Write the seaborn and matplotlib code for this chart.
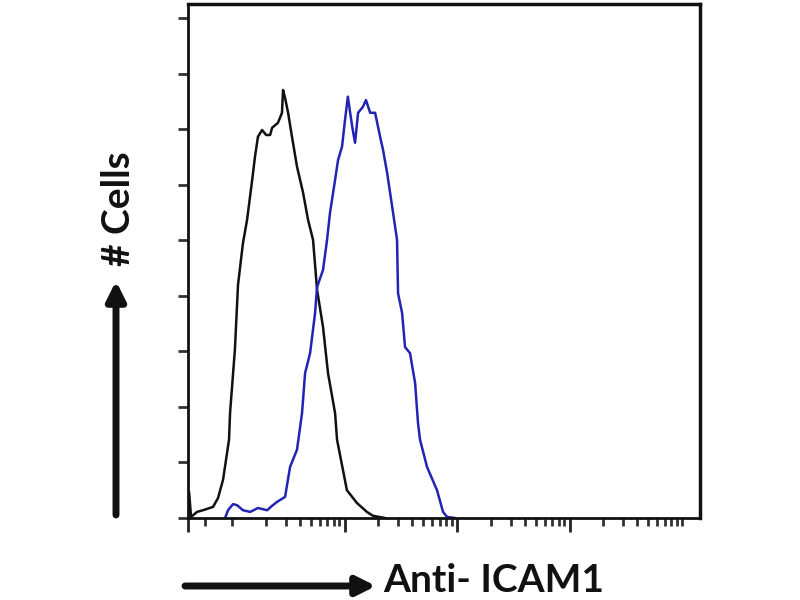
import matplotlib
matplotlib.use("Agg")
import matplotlib.pyplot as plt
from matplotlib.ticker import FixedLocator, NullFormatter
import numpy as np
import pandas as pd
import seaborn as sns

# Isotype control (black) - fluorescence intensity vs cell count
control_intensity = [0.406, 0.415, 0.432, 0.489, 0.552, 0.678, 0.751, 0.832, 0.940, 0.960,
                     1.06, 1.13, 1.25, 1.36, 1.51, 1.60, 1.70, 1.85, 2.01, 2.18, 2.27,
                     2.56, 2.78, 2.84, 2.96, 3.15, 3.41, 3.78, 4.28, 4.74, 5.25,
                     5.70, 6.44, 7.13, 8.24, 8.58, 10.5, 12.9, 15.8, 17.9, 22.9]
control_count = [0.0, 4.7, 0.2, 1.1, 1.4, 2.0, 3.6, 6.9, 14.1, 18.9,
                 30.3, 42.0, 49.5, 53.7, 60.9, 65.1, 68.7, 69.9, 69.0, 69.0, 70.3,
                 71.2, 73.0, 77.1, 75.7, 73.0, 68.7, 63.3, 58.6, 53.7, 50.1,
                 41.1, 34.4, 26.1, 18.9, 14.1, 5.0, 2.7, 1.1, 0.4, 0.0]

# Anti-ICAM1 stained cells (blue)
icam1_intensity = [0.867, 0.921, 1.02, 1.11, 1.25, 1.45, 1.70, 2.05, 2.27, 2.51,
                   2.96, 3.28, 3.78, 4.19, 4.46, 4.94, 5.47, 5.70, 6.44, 6.99,
                   7.43, 8.24, 8.76, 9.50, 10.1, 10.7, 11.7, 12.4, 13.2, 14.6,
                   15.5, 16.9, 18.7, 20.7, 22.0, 23.9, 27.0, 29.3, 29.9, 32.5,
                   34.5, 38.2, 42.4, 45.0, 46.9, 54.1, 66.4, 75.1, 81.5, 95.9]
icam1_count = [0.0, 1.4, 2.5, 2.3, 1.4, 1.1, 1.8, 1.4, 2.2, 2.9,
               3.8, 9.2, 12.3, 18.9, 26.1, 29.7, 36.9, 41.6, 44.7, 50.1,
               55.0, 60.9, 64.5, 66.9, 71.7, 75.9, 70.5, 67.6, 73.0, 74.1,
               75.3, 73.0, 73.0, 68.7, 66.3, 62.2, 55.0, 50.1, 40.5, 36.9,
               30.8, 29.7, 24.3, 17.1, 14.1, 9.2, 5.0, 1.1, 0.2, 0.0]

y_ticks = [0, 10, 20, 30, 40, 50, 60, 70, 80, 90]
x_major = [0.406, 10, 100, 1000]
x_minor = [0.575, 1, 2, 3, 4, 5, 6, 7, 8, 9,
           20, 30, 40, 50, 60, 70, 80, 90,
           200, 300, 400, 500, 600, 700, 800, 900,
           2000, 3000, 4000, 5000, 6000, 7000, 8000, 9000, 10000]

sns.set_style("ticks")
plt.rcParams['font.family'] = ['Lato', 'DejaVu Sans']

df_ctrl = pd.DataFrame({'intensity': control_intensity, 'count': control_count})
df_icam = pd.DataFrame({'intensity': icam1_intensity, 'count': icam1_count})

fig = plt.figure(figsize=(8, 6), dpi=100)
ax = fig.add_axes([188 / 800, 1 - 518 / 600, 512 / 800, 514 / 600])

sns.lineplot(data=df_ctrl, x='intensity', y='count', ax=ax, color='#111111',
             linewidth=1.8, estimator=None, sort=False)
sns.lineplot(data=df_icam, x='intensity', y='count', ax=ax, color='#2323b4',
             linewidth=1.8, estimator=None, sort=False)

ax.set_xscale('log')
ax.set_xlim(0.406, 14450)
ax.set_ylim(0, 92.6)

ax.xaxis.set_major_locator(FixedLocator(x_major))
ax.xaxis.set_minor_locator(FixedLocator(x_minor))
ax.xaxis.set_major_formatter(NullFormatter())
ax.xaxis.set_minor_formatter(NullFormatter())
ax.set_yticks(y_ticks)
ax.set_yticklabels([])
ax.tick_params(axis='x', which='major', length=10, width=2, color='#222222')
ax.tick_params(axis='x', which='minor', length=6, width=2, color='#333333')
ax.tick_params(axis='y', which='major', length=7, width=2, color='#333333')
ax.set_xlabel('')
ax.set_ylabel('')

for side in ['left', 'bottom', 'top', 'right']:
    ax.spines[side].set_visible(True)
    ax.spines[side].set_color('#111111')
    ax.spines[side].set_linewidth(2)
ax.spines['top'].set_linewidth(2.5)
ax.spines['right'].set_linewidth(2.5)

# axis labels with arrows
fig.text(383 / 800, 1 - 581 / 600, 'Anti- ICAM1', fontsize=28, fontweight='bold',
         ha='left', va='center', color='#111111')
ax.annotate('', xy=(376 / 800, 1 - 586 / 600), xytext=(185 / 800, 1 - 586 / 600),
            xycoords='figure fraction', textcoords='figure fraction',
            arrowprops=dict(arrowstyle='-|>', lw=5, color='#111111', mutation_scale=28,
                            shrinkA=0, shrinkB=0))

fig.text(118 / 800, 1 - 209 / 600, '# Cells', fontsize=28, fontweight='bold',
         rotation=90, ha='center', va='center', color='#111111')
ax.annotate('', xy=(116 / 800, 1 - 281 / 600), xytext=(116 / 800, 1 - 515 / 600),
            xycoords='figure fraction', textcoords='figure fraction',
            arrowprops=dict(arrowstyle='-|>', lw=5, color='#111111', mutation_scale=28,
                            shrinkA=0, shrinkB=0))

fig.savefig('out.png', dpi=100)
